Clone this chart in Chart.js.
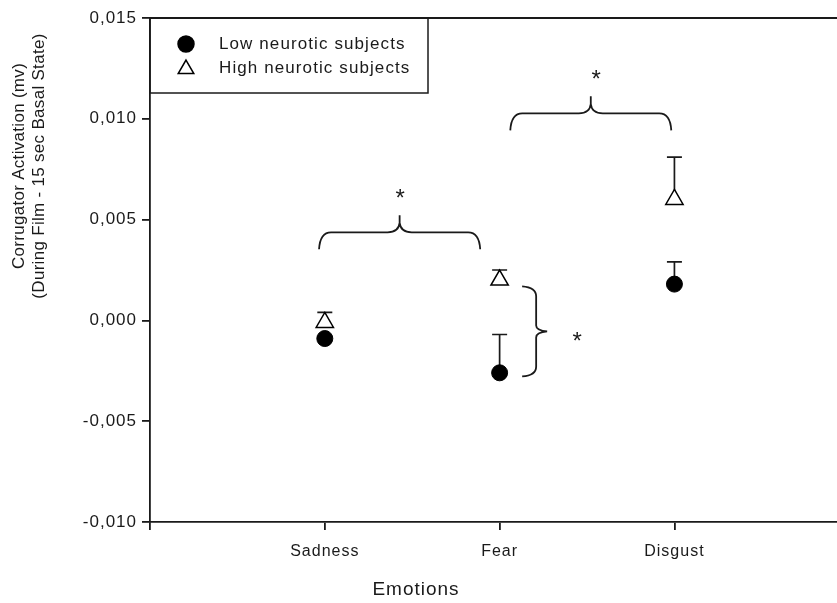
<!DOCTYPE html>
<html>
<head>
<meta charset="utf-8">
<script src="https://cdn.jsdelivr.net/npm/chart.js@4/dist/chart.umd.min.js"></script>
<style>
html,body{margin:0;padding:0;background:#fff;overflow:hidden}
#wrap{width:837px;height:603px;position:relative}
</style>
</head>
<body>
<div id="wrap"><canvas id="c"></canvas></div>
<script>
// ---- data ----
const categories = ['Sadness', 'Fear', 'Disgust'];
const seriesLabels = ['Low neurotic subjects', 'High neurotic subjects'];
const lowNeurotic = [-0.0009, -0.0026, 0.0018];
const lowNeuroticErr = [0.0001, 0.0019, 0.0011];
const highNeurotic = [-0.0001, 0.0020, 0.0060];
const highNeuroticErr = [0.0005, 0.0005, 0.0021];
const yTicks = [-0.010, -0.005, 0.000, 0.005, 0.010, 0.015];
const xTicks = [0, 1, 2, 3];
const xTitle = 'Emotions';
const yTitleLines = ['Corrugator Activation (mv)', '(During Film - 15 sec Basal State)'];
// significance annotations (data units: x = category position, y = value)
const hBraces = [
  { x1: 0.967, x2: 1.889, y: 0.00437 },
  { x1: 2.061, x2: 2.982, y: 0.01027 }
];
const vBraces = [
  { x: 2.209, y1: 0.00169, y2: -0.00278 }
];
const stars = [
  { x: 1.431, y: 0.00635 },
  { x: 2.553, y: 0.01225 },
  { x: 2.444, y: -0.00074 }
];

const FONT = "'Liberation Sans', Arial, sans-serif";
const INK = '#1a1a1a';

const toPoints = vals => vals.map((v, i) => ({ x: i + 1, y: v }));

const errorBars = {
  id: 'errorBars',
  beforeDatasetsDraw(chart) {
    const { ctx, scales: { x, y } } = chart;
    const errs = [lowNeuroticErr, highNeuroticErr];
    ctx.save();
    ctx.strokeStyle = INK;
    ctx.lineWidth = 1.7;
    chart.data.datasets.forEach((ds, d) => {
      ds.data.forEach((p, i) => {
        const px = x.getPixelForValue(p.x);
        const y0 = y.getPixelForValue(p.y);
        const y1 = y.getPixelForValue(p.y + errs[d][i]);
        ctx.beginPath();
        ctx.moveTo(px, y0); ctx.lineTo(px, y1);
        ctx.moveTo(px - 7.5, y1); ctx.lineTo(px + 7.5, y1);
        ctx.stroke();
      });
    });
    ctx.restore();
  }
};

const decorations = {
  id: 'decorations',
  beforeLayout(chart) { chart.ctx.letterSpacing = '1px'; },
  beforeDraw(chart) { chart.ctx.letterSpacing = '1px'; },
  afterDraw(chart) {
    const { ctx, chartArea: ca, scales: { x, y } } = chart;
    ctx.save();
    ctx.strokeStyle = INK;
    ctx.fillStyle = INK;
    ctx.lineWidth = 1.8;
    // top frame line
    ctx.beginPath();
    ctx.moveTo(ca.left, ca.top); ctx.lineTo(ca.right, ca.top);
    ctx.stroke();

    // legend box
    const lx = ca.left, ly = ca.top, lw = 278, lh = 75;
    ctx.lineWidth = 1.5;
    ctx.strokeRect(lx, ly, lw, lh);
    const h = Chart.helpers;
    const ds = chart.data.datasets;
    ctx.fillStyle = '#000'; ctx.strokeStyle = '#000';
    h.drawPoint(ctx, { pointStyle: 'circle', radius: 8, rotation: 0, borderWidth: 1 }, lx + 36, ly + 26);
    ctx.fillStyle = '#fff'; ctx.strokeStyle = '#000';
    h.drawPoint(ctx, { pointStyle: 'triangle', radius: 9, rotation: 0, borderWidth: 1.5 }, lx + 36, ly + 51);
    ctx.fillStyle = INK;
    ctx.font = '17px ' + FONT;
    ctx.letterSpacing = '1.1px';
    ctx.textBaseline = 'middle';
    ctx.textAlign = 'left';
    ctx.fillText(ds[0].label, lx + 69, ly + 26);
    ctx.fillText(ds[1].label, lx + 69, ly + 50);

    // braces
    ctx.strokeStyle = INK;
    ctx.lineWidth = 1.8;
    hBraces.forEach(b => {
      const x1 = x.getPixelForValue(b.x1), x2 = x.getPixelForValue(b.x2);
      const yh = y.getPixelForValue(b.y), xm = (x1 + x2) / 2;
      const drop = 17, r = 12, tip = 17;
      ctx.beginPath();
      ctx.moveTo(x1, yh + drop);
      ctx.quadraticCurveTo(x1 + 1, yh, x1 + r, yh);
      ctx.lineTo(xm - r, yh);
      ctx.quadraticCurveTo(xm - 1, yh, xm, yh - tip * 0.55);
      ctx.lineTo(xm, yh - tip);
      ctx.moveTo(xm, yh - tip * 0.55);
      ctx.quadraticCurveTo(xm + 1, yh, xm + r, yh);
      ctx.lineTo(x2 - r, yh);
      ctx.quadraticCurveTo(x2 - 1, yh, x2, yh + drop);
      ctx.stroke();
    });
    vBraces.forEach(b => {
      const xv = x.getPixelForValue(b.x);
      const y1 = y.getPixelForValue(b.y1), y2 = y.getPixelForValue(b.y2);
      const ym = (y1 + y2) / 2;
      const drop = 14, r = 10, tip = 11;
      ctx.beginPath();
      ctx.moveTo(xv - drop, y1);
      ctx.quadraticCurveTo(xv, y1 + 1, xv, y1 + r);
      ctx.lineTo(xv, ym - r * 0.6);
      ctx.quadraticCurveTo(xv, ym - 1, xv + tip, ym);
      ctx.moveTo(xv + tip, ym);
      ctx.quadraticCurveTo(xv, ym + 1, xv, ym + r * 0.6);
      ctx.lineTo(xv, y2 - r);
      ctx.quadraticCurveTo(xv, y2 - 1, xv - drop, y2);
      ctx.stroke();
    });
    // stars
    ctx.font = '24px ' + FONT;
    ctx.letterSpacing = '0px';
    ctx.textAlign = 'center';
    ctx.textBaseline = 'alphabetic';
    stars.forEach(s => {
      ctx.fillText('*', x.getPixelForValue(s.x), y.getPixelForValue(s.y) + 13.5);
    });

    // axis titles
    ctx.font = '19px ' + FONT;
    ctx.textBaseline = 'middle';
    ctx.textAlign = 'center';
    ctx.letterSpacing = '1px';
    ctx.fillText(xTitle, 416, 590);
    ctx.font = '17px ' + FONT;
    ctx.letterSpacing = '0.3px';
    ctx.save();
    ctx.translate(0, ca.top + 148);
    ctx.rotate(-Math.PI / 2);
    ctx.fillText(yTitleLines[0], 0, 19);
    ctx.fillText(yTitleLines[1], 0, 39);
    ctx.restore();
    ctx.restore();
  }
};

new Chart(document.getElementById('c'), {
  type: 'scatter',
  data: {
    datasets: [
      {
        label: seriesLabels[0],
        data: toPoints(lowNeurotic),
        pointStyle: 'circle',
        pointRadius: 8,
        pointHoverRadius: 8,
        pointBackgroundColor: '#000',
        pointBorderColor: '#000',
        pointBorderWidth: 1
      },
      {
        label: seriesLabels[1],
        data: toPoints(highNeurotic),
        pointStyle: 'triangle',
        pointRadius: 10,
        pointHoverRadius: 10,
        pointBackgroundColor: '#fff',
        pointBorderColor: '#000',
        pointBorderWidth: 1.5
      }
    ]
  },
  options: {
    responsive: true,
    maintainAspectRatio: false,
    animation: false,
    events: [],
    layout: { autoPadding: false, padding: { top: 18, left: 0, right: 0, bottom: 0 } },
    plugins: { legend: { display: false }, tooltip: { enabled: false } },
    scales: {
      x: {
        type: 'linear',
        min: 0,
        max: 3.93,
        afterBuildTicks: s => { s.ticks = xTicks.map(v => ({ value: v })); },
        afterFit: s => { s.height = 81; s.paddingLeft = 0; s.paddingRight = 0; },
        ticks: {
          autoSkip: false,
          maxRotation: 0,
          padding: 12,
          color: INK,
          font: { family: FONT, size: 16 },
          callback: v => categories[v - 1] || ''
        },
        grid: { display: true, drawOnChartArea: false, drawTicks: true, tickLength: 8, color: INK, lineWidth: 1.8 },
        border: { display: true, color: INK, width: 1.8 }
      },
      y: {
        min: -0.010,
        max: 0.015,
        afterBuildTicks: s => { s.ticks = yTicks.map(v => ({ value: v })); },
        afterFit: s => { s.width = 150; },
        ticks: {
          padding: 5,
          color: INK,
          font: { family: FONT, size: 17 },
          callback: v => v.toFixed(3).replace('.', ',')
        },
        grid: { display: true, drawOnChartArea: false, drawTicks: true, tickLength: 8, color: INK, lineWidth: 1.8 },
        border: { display: true, color: INK, width: 1.8 }
      }
    }
  },
  plugins: [errorBars, decorations]
});
</script>
</body>
</html>
